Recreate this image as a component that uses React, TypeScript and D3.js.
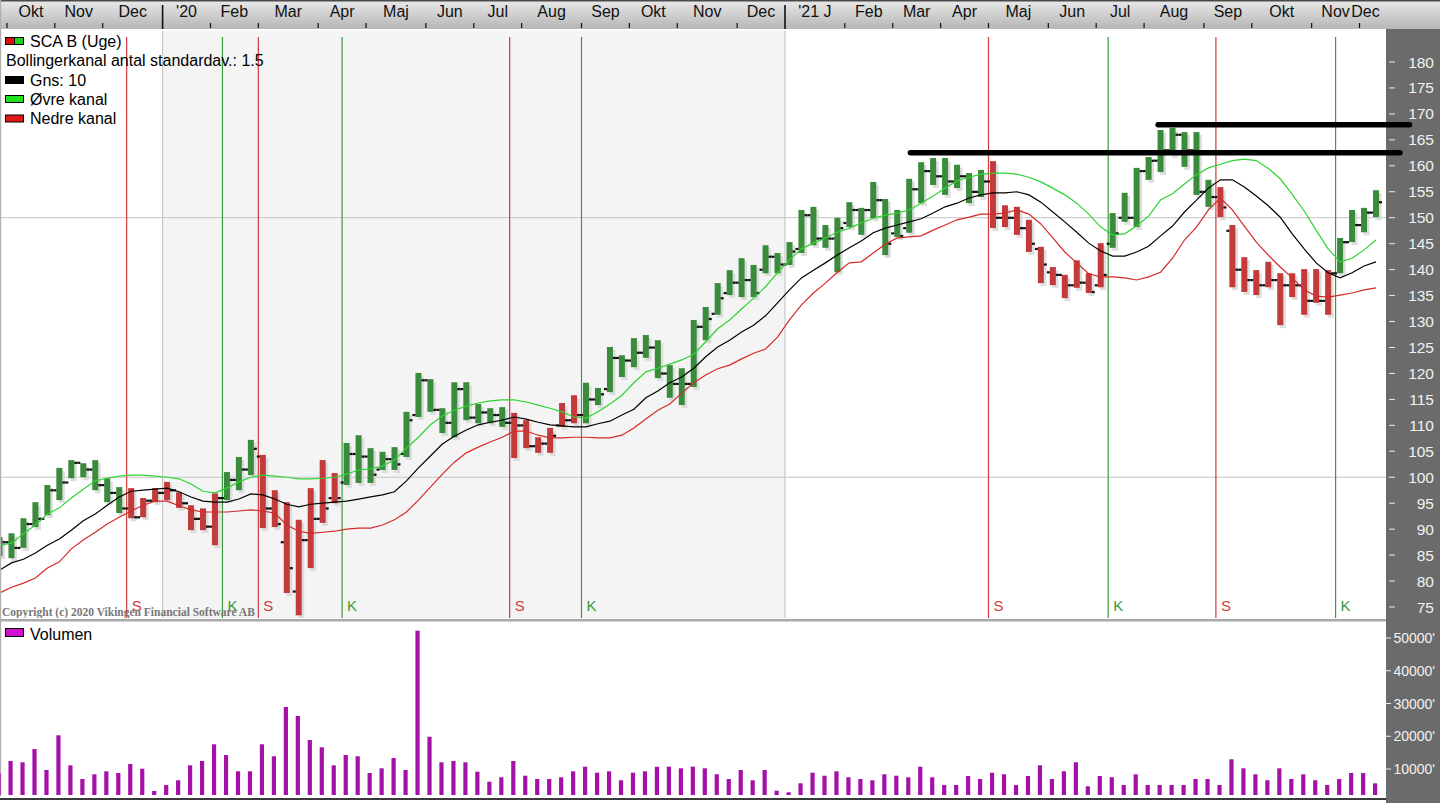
import React from 'react';
import * as d3 from 'd3';

// ---------- DATA ----------
const highs = [88.5, 89.2, 92.1, 95.2, 98.5, 101.8, 103.3, 102.7, 103.3, 99.8, 98.1, 97.9, 96.0, 97.9, 99.1, 97.1, 94.6, 94.0, 96.9, 101.0, 103.9, 107.2, 104.3, 97.5, 95.2, 91.8, 97.9, 103.3, 100.8, 106.6, 108.1, 105.6, 104.9, 105.8, 112.6, 120.1, 118.9, 113.3, 118.3, 118.3, 114.1, 113.3, 113.5, 112.4, 111.0, 107.7, 109.5, 114.3, 115.8, 118.2, 117.2, 125.1, 123.5, 126.8, 127.4, 126.4, 121.6, 121.0, 130.3, 132.8, 137.4, 139.9, 142.2, 140.9, 144.7, 143.2, 145.3, 151.5, 152.1, 148.6, 150.0, 153.0, 151.9, 156.9, 153.6, 151.5, 157.5, 160.7, 161.5, 161.5, 160.2, 158.6, 159.2, 160.9, 152.4, 152.1, 149.6, 144.4, 140.5, 139.0, 141.8, 139.3, 145.1, 150.9, 154.8, 159.6, 161.7, 166.9, 167.3, 166.5, 166.5, 157.3, 155.9, 148.6, 142.4, 139.9, 141.5, 139.3, 139.3, 140.1, 140.1, 139.9, 146.1, 151.5, 151.9, 155.3];
const lows = [84.8, 84.4, 86.4, 90.4, 92.7, 95.6, 99.8, 100.0, 97.5, 95.2, 93.1, 92.1, 92.3, 95.2, 95.6, 94.1, 89.8, 89.8, 86.9, 95.6, 97.5, 100.4, 90.2, 90.4, 77.7, 73.4, 82.5, 91.2, 95.0, 98.5, 98.9, 98.9, 101.4, 101.4, 103.9, 111.6, 112.6, 108.5, 107.7, 111.0, 110.4, 110.4, 109.7, 103.7, 105.6, 104.7, 104.7, 109.7, 110.4, 110.4, 113.9, 116.4, 119.3, 121.2, 123.0, 119.1, 115.3, 113.9, 117.4, 126.4, 131.3, 135.1, 134.7, 134.7, 139.3, 139.3, 140.9, 143.2, 144.7, 144.2, 139.5, 148.2, 146.7, 149.9, 142.8, 146.3, 147.1, 152.8, 156.3, 154.4, 155.7, 152.8, 154.0, 148.0, 148.2, 146.7, 143.4, 137.4, 137.0, 134.5, 136.5, 135.5, 136.6, 144.2, 149.2, 148.2, 157.3, 158.8, 162.1, 159.8, 154.4, 152.1, 150.1, 136.6, 135.7, 135.1, 136.6, 129.3, 134.7, 131.3, 133.6, 131.3, 139.3, 145.3, 147.2, 150.1];
const opens = [86.0, 87.5, 86.4, 91.0, 92.0, 97.5, 99.0, 102.8, 101.5, 98.5, 97.0, 94.0, 92.3, 95.5, 97.0, 97.5, 95.0, 92.0, 90.5, 96.0, 99.5, 101.5, 104.0, 94.0, 87.5, 78.0, 87.9, 92.0, 96.0, 99.0, 104.5, 104.0, 101.5, 103.5, 104.5, 112.0, 118.7, 113.0, 110.5, 117.0, 111.5, 112.5, 112.0, 110.5, 110.0, 106.0, 106.5, 110.0, 111.0, 112.0, 115.0, 117.0, 123.0, 122.5, 124.0, 125.0, 120.0, 118.0, 118.0, 129.0, 131.5, 135.5, 137.5, 138.0, 140.0, 142.5, 141.0, 144.0, 150.5, 146.0, 146.0, 149.0, 151.5, 151.5, 153.4, 147.0, 148.0, 155.5, 159.0, 158.0, 157.0, 158.0, 155.0, 157.0, 150.0, 150.0, 148.0, 144.0, 139.5, 139.0, 137.0, 137.5, 137.0, 145.0, 150.0, 150.0, 159.0, 161.0, 163.0, 166.0, 163.0, 155.0, 154.0, 147.5, 140.0, 138.0, 137.0, 138.0, 137.0, 137.0, 134.0, 134.0, 139.3, 145.3, 148.6, 151.0];
const closes = [87.5, 86.4, 91.0, 92.0, 97.5, 99.0, 102.8, 101.5, 98.5, 97.0, 94.0, 92.3, 95.5, 97.0, 97.5, 95.0, 92.0, 90.5, 96.0, 99.5, 101.5, 105.5, 94.0, 91.0, 82.5, 87.9, 92.0, 94.0, 96.0, 104.5, 104.0, 100.5, 103.5, 102.5, 111.0, 118.7, 113.0, 110.5, 117.0, 111.5, 112.5, 112.0, 110.5, 110.0, 106.0, 106.5, 108.0, 111.0, 112.0, 115.0, 116.0, 123.0, 122.5, 124.0, 125.0, 120.0, 118.0, 118.0, 129.0, 130.5, 134.5, 137.5, 138.0, 135.5, 142.5, 141.0, 143.5, 150.5, 146.0, 146.0, 148.0, 151.5, 151.5, 153.4, 145.0, 146.5, 155.5, 159.0, 158.0, 157.0, 158.0, 155.0, 157.0, 150.0, 150.0, 148.0, 145.0, 141.0, 139.0, 137.0, 137.5, 135.7, 139.0, 147.0, 150.0, 159.0, 161.0, 163.0, 166.0, 163.0, 155.0, 154.0, 152.0, 140.0, 138.0, 137.0, 138.0, 137.0, 137.0, 134.0, 134.0, 139.3, 145.3, 148.6, 151.0, 153.0];

const bandMid = [82.1, 83.5, 84.2, 85.4, 86.9, 88.1, 89.8, 91.6, 92.9, 94.6, 96.2, 97.3, 97.5, 97.7, 97.9, 97.2, 96.2, 95.4, 95.2, 95.2, 95.8, 96.8, 96.6, 95.8, 94.8, 94.3, 94.8, 95.0, 95.2, 95.4, 95.8, 96.2, 96.6, 97.2, 99.3, 101.8, 104.1, 106.4, 107.9, 109.1, 110.1, 110.6, 111.0, 111.6, 111.2, 110.6, 110.1, 109.9, 109.7, 109.7, 110.3, 110.8, 112.0, 113.1, 115.3, 116.6, 118.2, 119.3, 121.0, 123.2, 125.1, 126.4, 128.0, 129.3, 131.1, 133.6, 136.1, 138.4, 139.9, 141.3, 142.8, 144.2, 145.5, 147.1, 148.0, 148.6, 149.2, 149.8, 150.9, 152.1, 152.8, 153.8, 154.4, 154.8, 154.8, 155.0, 154.4, 153.0, 151.1, 149.2, 147.2, 145.1, 143.6, 142.6, 142.6, 143.4, 144.5, 146.5, 148.4, 151.1, 153.4, 155.7, 157.3, 157.3, 155.9, 154.2, 152.3, 150.1, 146.9, 144.0, 141.3, 139.4, 138.4, 139.4, 140.7, 141.5];
const bandUpper = [86.9, 87.3, 89.1, 90.8, 92.9, 94.1, 96.0, 97.7, 99.3, 99.8, 100.2, 100.4, 100.4, 100.2, 100.0, 99.7, 98.7, 97.3, 97.0, 97.9, 99.1, 100.0, 100.4, 100.2, 100.0, 99.7, 99.7, 99.8, 100.0, 100.6, 101.4, 101.6, 102.2, 103.3, 105.6, 107.7, 110.1, 111.8, 112.9, 113.7, 114.3, 114.7, 114.9, 114.9, 114.5, 113.9, 113.3, 112.6, 111.6, 111.4, 112.6, 114.1, 115.8, 118.2, 120.3, 121.0, 121.8, 122.6, 123.7, 126.1, 128.6, 130.3, 132.4, 134.5, 136.7, 139.4, 141.9, 144.0, 145.1, 146.1, 147.2, 148.0, 149.0, 149.9, 150.5, 150.9, 151.5, 152.8, 154.2, 155.7, 157.1, 157.8, 158.4, 158.6, 158.6, 158.4, 157.8, 156.9, 155.7, 154.4, 152.8, 150.7, 148.2, 146.7, 146.9, 148.4, 150.3, 153.4, 154.6, 156.5, 158.3, 159.6, 160.3, 161.0, 161.3, 161.0, 159.5, 157.5, 154.5, 151.3, 147.6, 144.0, 141.5, 142.2, 143.8, 145.7];
const bandLower = [77.7, 78.8, 79.6, 80.6, 82.5, 83.7, 86.2, 87.9, 89.4, 91.0, 92.3, 93.5, 94.6, 95.4, 95.4, 94.5, 93.7, 93.3, 93.3, 93.3, 93.5, 93.7, 93.5, 93.1, 90.8, 89.6, 89.2, 89.4, 89.6, 90.0, 90.2, 90.2, 90.8, 91.8, 93.3, 95.6, 98.1, 100.6, 102.9, 104.7, 105.8, 106.8, 107.7, 108.9, 108.9, 108.1, 107.6, 107.6, 107.7, 107.7, 107.6, 107.6, 108.1, 109.5, 111.2, 112.9, 114.1, 116.2, 118.2, 119.7, 120.9, 121.6, 122.8, 123.9, 124.7, 127.0, 130.3, 133.2, 135.5, 137.4, 139.5, 141.3, 141.5, 143.2, 144.9, 146.1, 146.3, 146.5, 147.6, 148.6, 149.6, 150.1, 150.7, 150.7, 150.9, 151.5, 150.7, 148.8, 146.1, 143.4, 141.3, 139.2, 138.6, 138.6, 138.4, 138.0, 138.6, 139.5, 142.2, 145.7, 148.2, 151.5, 153.8, 151.5, 148.4, 145.3, 142.8, 140.5, 138.4, 136.1, 134.9, 134.7, 135.1, 135.5, 136.1, 136.5];

const volumes = [8690, 12440, 12050, 16100, 9700, 20290, 11130, 6950, 8380, 9300, 8780, 11530, 10090, 3280, 5110, 6550, 11130, 12440, 17540, 14270, 9300, 9300, 17540, 13880, 28930, 26180, 18850, 16630, 11130, 14270, 13880, 8780, 10210, 13360, 9700, 52230, 19860, 12050, 12440, 12050, 9180, 6120, 7470, 12440, 7950, 6950, 6950, 7470, 9300, 10700, 8870, 9300, 6550, 8870, 9300, 10700, 10700, 10210, 10700, 10210, 8380, 6950, 9700, 6550, 9700, 3370, 2890, 5630, 8870, 7950, 9300, 7470, 6950, 6550, 8380, 7950, 7470, 10700, 7470, 5110, 5110, 7860, 6950, 8870, 8380, 5110, 7860, 11130, 6950, 9300, 12050, 4720, 7860, 7470, 5110, 8380, 5110, 5110, 5110, 5110, 6950, 6950, 5110, 12960, 10210, 8380, 6550, 10210, 6950, 8380, 6550, 5110, 6950, 8780, 8780, 5630];

const signalWeeks = [11, 19, 22, 29, 43, 49, 83, 93, 102, 112];
const signalTypes = ['S', 'K', 'S', 'K', 'S', 'K', 'S', 'K', 'S', 'K'];

const monthLabels = ['Okt', 'Nov', 'Dec', "'20", 'Feb', 'Mar', 'Apr', 'Maj', 'Jun', 'Jul', 'Aug', 'Sep', 'Okt', 'Nov', 'Dec', "'21 J", 'Feb', 'Mar', 'Apr', 'Maj', 'Jun', 'Jul', 'Aug', 'Sep', 'Okt', 'Nov', 'Dec'];
const monthStarts = [1, 5, 9, 14, 18, 22, 27, 31, 36, 40, 44, 49, 53, 57, 62, 66, 71, 75, 79, 83, 88, 92, 96, 101, 105, 110, 114, 115];
const yearStartWeeks = [14, 66];
const shadedYear = [14, 66];

const priceTicks = [75, 80, 85, 90, 95, 100, 105, 110, 115, 120, 125, 130, 135, 140, 145, 150, 155, 160, 165, 170, 175, 180];
const priceGrid = [100, 150];
const volumeTicks = [10000, 20000, 30000, 40000, 50000];
const volumeTickLabels = ["10000'", "20000'", "30000'", "40000'", "50000'"];

const trendStart = [76.1, 96.8];
const trendEnd = [117.0, 117.8];
const trendValue = [162.5, 167.9];

const legendItems = ['SCA B (Uge)', 'Bollingerkanal antal standardav.: 1.5', 'Gns: 10', 'Øvre kanal', 'Nedre kanal'];

// ---------- LAYOUT ----------
const W = 1440, H = 803;
const PLOT_R = 1386;
const P_TOP = 31, P_BOT = 618;
const V_TOP = 624, V_BOT = 795;

const GREEN_BAR = '#3b8b3d';
const RED_BAR = '#c23a3a';
const SIG_RED = '#d03a3a';
const SIG_GREEN = '#3c9a3c';
const FONT = '"Liberation Sans", Arial, sans-serif';

export default function App() {
  const n = highs.length;
  const x = d3.scaleLinear().domain([0, 115]).range([-0.5, 1376]);
  const y = d3.scaleLinear().domain([75, 180]).range([607, 62]);
  const yv = d3.scaleLinear().domain([0, 50000]).range([801.75, 638]);

  // regime colors from signals
  const regime: string[] = [];
  let cur = 'K';
  for (let i = 0; i < n; i++) {
    const k = signalWeeks.indexOf(i);
    if (k >= 0) cur = signalTypes[k];
    regime.push(cur);
  }

  const line = d3.line<number>().x((_, i) => x(i)).y(d => y(d));
  const boundary = (w: number) => x(w) - 4.5;

  return (
    <svg width={W} height={H} style={{ position: 'absolute', left: 0, top: 0, display: 'block' }} fontFamily={FONT}>
      <defs>
        <linearGradient id="band" x1="0" y1="0" x2="0" y2="1">
          <stop offset="0" stopColor="#e9e9e9" />
          <stop offset="1" stopColor="#b6b6b6" />
        </linearGradient>
        <clipPath id="pclip"><rect x={0} y={P_TOP} width={PLOT_R} height={P_BOT - P_TOP} /></clipPath>
        <clipPath id="vclip"><rect x={0} y={V_TOP} width={PLOT_R} height={V_BOT - V_TOP} /></clipPath>
      </defs>
      <rect x={0} y={0} width={W} height={H} fill="#ffffff" />
      {/* top axis band */}
      <rect x={0} y={0} width={W} height={29} fill="url(#band)" />
      <rect x={0} y={0} width={W} height={1.5} fill="#4a4a4a" />
      {/* right axis panel */}
      <rect x={PLOT_R} y={29} width={W - PLOT_R} height={H - 29} fill="#6b6b6b" />

      {/* price panel */}
      <g clipPath="url(#pclip)">
        <rect x={boundary(shadedYear[0])} y={P_TOP} width={boundary(shadedYear[1]) - boundary(shadedYear[0])} height={P_BOT - P_TOP} fill="#f4f4f4" />
        {priceGrid.map(v => (
          <line key={v} x1={0} x2={PLOT_R} y1={y(v)} y2={y(v)} stroke="#c4c4c4" strokeWidth={1} />
        ))}
        {yearStartWeeks.map(w => (
          <line key={w} x1={boundary(w)} x2={boundary(w)} y1={P_TOP} y2={P_BOT} stroke="#c8c8c8" strokeWidth={1.2} />
        ))}
        {signalWeeks.map((w, k) => (
          <line key={k} x1={boundary(w)} x2={boundary(w)} y1={37} y2={P_BOT}
            stroke={signalTypes[k] === 'S' ? SIG_RED : SIG_GREEN} strokeWidth={1.2} />
        ))}
        {/* bar shadows */}
        {highs.map((h, i) => (
          <rect key={'s' + i} x={x(i) - 0.5} y={y(h) + 3} width={6} height={y(lows[i]) - y(h)} fill="#d6d6d6" opacity={0.8} />
        ))}
        {highs.map((h, i) => (
          <rect key={'b' + i} x={x(i) - 3} y={y(h)} width={6} height={y(lows[i]) - y(h)}
            fill={regime[i] === 'S' ? RED_BAR : GREEN_BAR} />
        ))}
        {opens.map((o, i) => (
          <rect key={'o' + i} x={x(i) - 6} y={y(o) - 1} width={3} height={2.2} fill="#111" />
        ))}
        {closes.map((c, i) => (
          <rect key={'c' + i} x={x(i) + 3} y={y(c) - 1} width={3} height={2.2} fill="#111" />
        ))}
        <path d={line(bandUpper) || ''} fill="none" stroke="#2fd42f" strokeWidth={1.2} />
        <path d={line(bandMid) || ''} fill="none" stroke="#000000" strokeWidth={1.2} />
        <path d={line(bandLower) || ''} fill="none" stroke="#d42a2a" strokeWidth={1.2} />
        {signalWeeks.map((w, k) => (
          <text key={'t' + k} x={boundary(w) + 5} y={611} fontSize={15}
            fill={signalTypes[k] === 'S' ? SIG_RED : SIG_GREEN}>{signalTypes[k]}</text>
        ))}
        <text x={2} y={616} fontSize={11.5} fontFamily='"Liberation Serif", "Times New Roman", serif' fill="#777" fontWeight="bold">Copyright (c) 2020 Vikingen Financial Software AB</text>
      </g>

      {/* trend lines */}
      {trendValue.map((v, k) => (
        <line key={'tr' + k} x1={x(trendStart[k])} x2={x(trendEnd[k])} y1={y(v)} y2={y(v)} stroke="#000" strokeWidth={5.5} strokeLinecap="round" />
      ))}

      {/* legend */}
      <g fontSize={16} fill="#000">
        <rect x={5.5} y={37.5} width={9} height={7} fill="#e01010" stroke="#000" />
        <rect x={14.5} y={37.5} width={9} height={7} fill="#20d020" stroke="#000" />
        <text x={30} y={46.5}>{legendItems[0]}</text>
        <text x={6} y={66}>{legendItems[1]}</text>
        <rect x={5.5} y={76.5} width={18} height={7} fill="#000" stroke="#000" />
        <text x={30} y={85.5}>{legendItems[2]}</text>
        <rect x={5.5} y={95.5} width={18} height={7} fill="#20e020" stroke="#000" />
        <text x={30} y={104.5}>{legendItems[3]}</text>
        <rect x={5.5} y={115} width={18} height={7} fill="#e01818" stroke="#000" />
        <text x={30} y={124}>{legendItems[4]}</text>
      </g>

      {/* top axis */}
      {monthLabels.map((m, k) => (
        <text key={'m' + k} x={(boundary(monthStarts[k]) + boundary(monthStarts[k + 1])) / 2} y={17} fontSize={16} textAnchor="middle" fill="#111">{m}</text>
      ))}
      {monthStarts.slice(0, -1).map((w, k) => (
        yearStartWeeks.includes(w)
          ? <line key={'mt' + k} x1={boundary(w)} x2={boundary(w)} y1={5} y2={29} stroke="#111" strokeWidth={1.6} />
          : <line key={'mt' + k} x1={boundary(w)} x2={boundary(w)} y1={23} y2={28} stroke="#111" strokeWidth={1.2} />
      ))}

      {/* price axis labels */}
      {priceTicks.map(v => (
        <g key={'pt' + v}>
          <line x1={1389} x2={1395} y1={y(v)} y2={y(v)} stroke="#eeeeee" strokeWidth={1} />
          <text x={1434} y={y(v) + 5.5} fontSize={15.5} textAnchor="end" fill="#f2f2f2">{v}</text>
        </g>
      ))}

      {/* separator between panels */}
      <rect x={0} y={619} width={PLOT_R} height={2.5} fill="#a9a9a9" />
      <rect x={0} y={0} width={1.2} height={H} fill="#b0b0b0" />

      {/* volume panel */}
      <g clipPath="url(#vclip)">
        {volumes.map((v, i) => (
          <rect key={'v' + i} x={x(i) - 3} y={yv(v)} width={4.2} height={yv(0) - yv(v)} fill="#a511a8" />
        ))}
      </g>
      <rect x={5.5} y={628.5} width={18} height={8} fill="#d010d0" stroke="#000" />
      <text x={30} y={639.5} fontSize={16} fill="#000">Volumen</text>
      {volumeTicks.map((v, k) => (
        <g key={'vt' + k}>
          <line x1={1386} x2={1391} y1={yv(v)} y2={yv(v)} stroke="#eeeeee" strokeWidth={1} />
          <text x={1435} y={yv(v) + 5} fontSize={14} textAnchor="end" fill="#f2f2f2">{volumeTickLabels[k]}</text>
        </g>
      ))}
      <rect x={0} y={796} width={PLOT_R} height={7} fill="#ffffff" />
      <rect x={0} y={798} width={PLOT_R} height={2} fill="#3a3a3a" />
    </svg>
  );
}
